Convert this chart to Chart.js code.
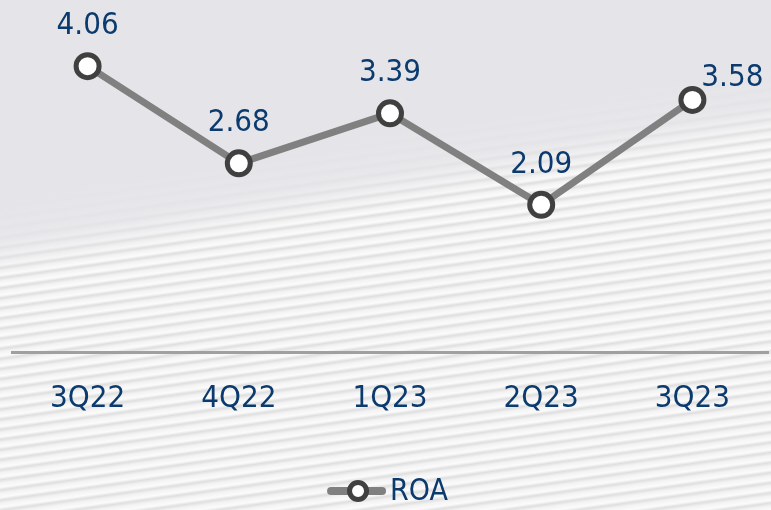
<!DOCTYPE html>
<html>
<head>
<meta charset="utf-8">
<script src="https://cdn.jsdelivr.net/npm/chart.js@4"></script>
<style>
  html, body { margin: 0; padding: 0; }
  body {
    width: 771px; height: 510px; overflow: hidden;
    background:
      linear-gradient(-10deg, rgba(229,229,233,0) 57%, rgba(229,229,233,0.85) 63%, #e5e5e9 69%),
      repeating-linear-gradient(-8deg, #fbfbfb 0px, #f3f3f3 4px, #dfdfdf 7px, #f3f3f3 9px, #fbfbfb 10px);
  }
  #wrap { position: absolute; left: 0; top: 0; width: 771px; height: 510px; }
</style>
</head>
<body>
<div id="wrap"><canvas id="roaChart"></canvas></div>
<script>
const quarters = ['3Q22', '4Q22', '1Q23', '2Q23', '3Q23'];
const roa = [4.06, 2.68, 3.39, 2.09, 3.58];
const seriesName = 'ROA';

const navy = '#0b3a6e';
const font = "Tahoma, 'DejaVu Sans Condensed', 'DejaVu Sans', sans-serif";

// value labels above points, last one sits up and to the right
const valueLabels = {
  id: 'valueLabels',
  afterDatasetsDraw(chart) {
    const ctx = chart.ctx;
    const pts = chart.getDatasetMeta(0).data;
    ctx.save();
    ctx.font = '31px ' + font;
    ctx.fillStyle = navy;
    ctx.textAlign = 'center';
    ctx.textBaseline = 'middle';
    pts.forEach((p, i) => {
      const last = i === pts.length - 1;
      const dx = last ? 40 : 0;
      const dy = last ? -22 : -40;
      ctx.fillText(roa[i].toFixed(2), p.x + dx, p.y + dy);
    });
    ctx.restore();
  }
};

// legend: line with a ring marker, then the series name
const lineLegend = {
  id: 'lineLegend',
  afterDraw(chart) {
    const ctx = chart.ctx;
    const ds = chart.data.datasets[0];
    const y = 491;
    ctx.save();
    ctx.font = '30px ' + font;
    const tw = ctx.measureText(ds.label).width;
    const total = 58 + 5 + tw;
    const x0 = (chart.width - total) / 2 + 2;
    ctx.strokeStyle = ds.borderColor;
    ctx.lineWidth = 8;
    ctx.lineCap = 'round';
    ctx.beginPath();
    ctx.moveTo(x0 + 4, y);
    ctx.lineTo(x0 + 55, y);
    ctx.stroke();
    ctx.beginPath();
    ctx.arc(x0 + 31, y, 8.5, 0, Math.PI * 2);
    ctx.fillStyle = ds.pointBackgroundColor;
    ctx.fill();
    ctx.lineWidth = 5;
    ctx.strokeStyle = ds.pointBorderColor;
    ctx.stroke();
    ctx.fillStyle = navy;
    ctx.textAlign = 'left';
    ctx.textBaseline = 'middle';
    ctx.fillText(ds.label, x0 + 63, y + 1);
    ctx.restore();
  }
};

new Chart(document.getElementById('roaChart'), {
  type: 'line',
  data: {
    labels: quarters,
    datasets: [{
      label: seriesName,
      data: roa,
      borderColor: '#808080',
      borderWidth: 7,
      pointRadius: 11.5,
      pointBorderWidth: 5,
      pointBackgroundColor: '#ffffff',
      pointBorderColor: '#404040',
      tension: 0,
      fill: false,
      clip: false
    }]
  },
  options: {
    responsive: true,
    maintainAspectRatio: false,
    animation: false,
    layout: { autoPadding: false, padding: { left: 12, right: 3, top: 0, bottom: 0 } },
    plugins: {
      tooltip: { enabled: false },
      legend: { display: false }
    },
    scales: {
      x: {
        offset: true,
        grid: { display: false, drawTicks: false },
        border: { display: true, color: '#a0a0a0', width: 3 },
        ticks: { color: navy, font: { size: 31, family: font }, padding: 28 },
        afterFit(scale) {
          scale.height = 158;
          scale.paddingLeft = 0;
          scale.paddingRight = 0;
        }
      },
      y: {
        min: 0, max: 5,
        display: false
      }
    }
  },
  plugins: [valueLabels, lineLegend]
});
</script>
</body>
</html>
